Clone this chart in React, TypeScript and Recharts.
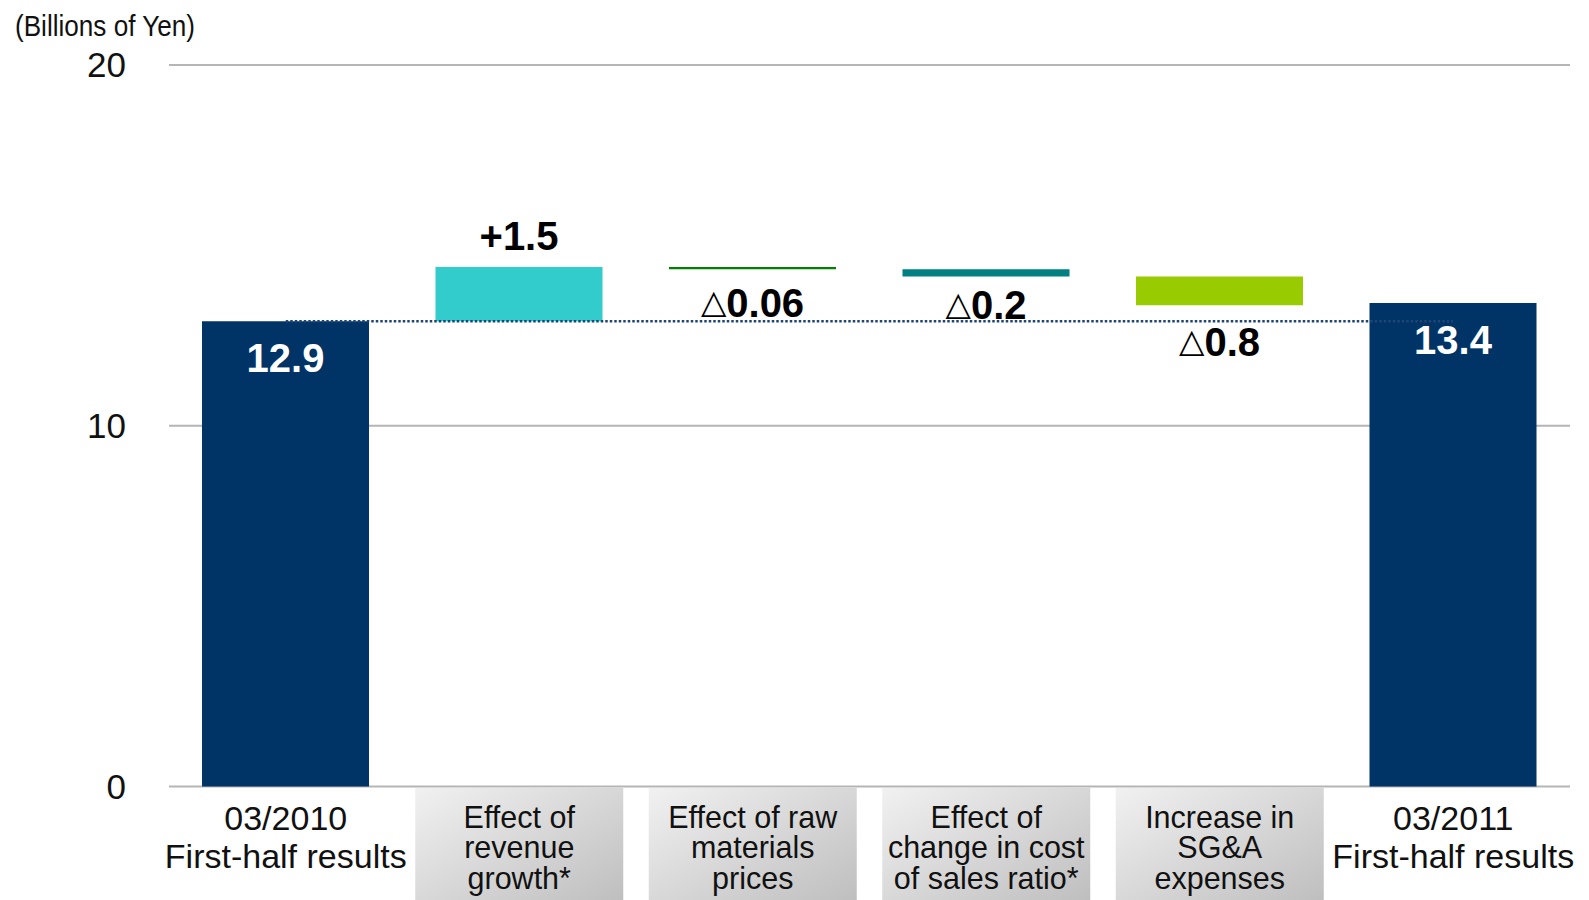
import React from "react";
import { BarChart, Bar, XAxis, YAxis, CartesianGrid, ReferenceLine, LabelList, Cell } from "recharts";

// categories (each entry is the lines of the axis label)
const categories = [
  ["03/2010", "First-half results"],
  ["Effect of", "revenue", "growth*"],
  ["Effect of raw", "materials", "prices"],
  ["Effect of", "change in cost", "of sales ratio*"],
  ["Increase in", "SG&A", "expenses"],
  ["03/2011", "First-half results"],
];
const startResult = 12.9;
const endResult = 13.4;
const effects = [1.5, -0.06, -0.2, -0.8];
const barLabels = ["12.9", "+1.5", "0.06", "0.2", "0.8", "13.4"];
const barColors = ["#003366", "#33CCCC", "#008000", "#008080", "#99CC00", "#003366"];
const yTicks = [0, 10, 20];

const FONT = "'Liberation Sans', Arial, 'DejaVu Sans', sans-serif";
// vertical gap of each label from its bar edge (hand-placed in the original slide)
const labelGap = [37, 31, 34, 29, 37, 37];

// waterfall rows: invisible base + visible segment
let running = startResult;
const rows = categories.map((lines, i) => {
  const name = lines.join("\n");
  if (i === 0) return { name, base: 0, value: startResult, label: barLabels[i], kind: "total" };
  if (i === categories.length - 1) return { name, base: 0, value: endResult, label: barLabels[i], kind: "total" };
  const d = effects[i - 1];
  const base = d > 0 ? running : running + d;
  running += d;
  return { name, base, value: Math.abs(d), label: barLabels[i], kind: d > 0 ? "up" : "down" };
});

const CategoryTick = (props: any) => {
  const { x, y, payload, index } = props;
  const lines: string[] = String(payload.value).split("\n");
  const boxed = index > 0 && index < categories.length - 1;
  const gid = `tickbg${index}`;
  const fontSize = boxed ? 30.5 : 34;
  const first = lines.length === 3 ? 30 : 31;
  const step = lines.length === 3 ? 30.5 : 38;
  return (
    <g>
      {boxed && (
        <>
          <defs>
            <linearGradient id={gid} x1="0" y1="0" x2="1" y2="1">
              <stop offset="0%" stopColor="#f1f1f1" />
              <stop offset="100%" stopColor="#bdbdbd" />
            </linearGradient>
          </defs>
          <rect x={x - 104} y={y + 1.5} width={208} height={120} fill={`url(#${gid})`} />
        </>
      )}
      {lines.map((t, k) => (
        <text
          key={k}
          x={x}
          y={y + first + k * step}
          textAnchor="middle"
          dominantBaseline="central"
          fontFamily={FONT}
          fontSize={fontSize}
          fill="#111"
        >
          {t}
        </text>
      ))}
    </g>
  );
};

const ValueLabel = (props: any) => {
  const { x, y, width, height, index, value } = props;
  const row = rows[index];
  const cx = x + width / 2;
  let cy = y + labelGap[index];
  let fill = "#ffffff";
  if (row.kind === "up") {
    cy = y - labelGap[index];
    fill = "#000";
  } else if (row.kind === "down") {
    cy = y + height + labelGap[index];
    fill = "#000";
  }
  return (
    <text
      x={cx}
      y={cy}
      textAnchor="middle"
      dominantBaseline="central"
      fontFamily={FONT}
      fontWeight="bold"
      fontSize={40}
      fill={fill}
    >
      {row.kind === "down" && (
        <tspan fontFamily="'DejaVu Sans', sans-serif" fontSize={33} dy={-2}>
          {"\u25B3"}
        </tspan>
      )}
      <tspan dy={row.kind === "down" ? 2 : 0}>{value}</tspan>
    </text>
  );
};

export default function App() {
  return (
    <div style={{ position: "absolute", left: 0, top: 0, width: 1589, height: 900, background: "#fff" }}>
      <svg width={240} height={50} style={{ position: "absolute", left: 0, top: 0 }}>
        <text
          x={15}
          y={25}
          dominantBaseline="central"
          fontFamily={FONT}
          fontSize={30}
          textLength={180}
          lengthAdjust="spacingAndGlyphs"
          fill="#111"
        >
          (Billions of Yen)
        </text>
      </svg>
      <BarChart
        width={1589}
        height={900}
        data={rows}
        margin={{ top: 65, right: 19, left: 0, bottom: 0 }}
      >
        <CartesianGrid vertical={false} stroke="#b5b5b5" strokeWidth={2} />
        <XAxis
          dataKey="name"
          interval={0}
          height={113.5}
          axisLine={false}
          tickLine={false}
          tickSize={0}
          tickMargin={0}
          tick={<CategoryTick />}
        />
        <YAxis
          domain={[0, 20]}
          ticks={yTicks}
          width={169}
          axisLine={false}
          tickLine={false}
          tickSize={0}
          tickMargin={43}
          tick={{ fontFamily: FONT, fontSize: 35, fill: "#111" }}
        />
        <Bar dataKey="base" stackId="w" fill="transparent" barSize={167} isAnimationActive={false} />
        <Bar dataKey="value" stackId="w" barSize={167} isAnimationActive={false}>
          {rows.map((r, i) => (
            <Cell key={i} fill={barColors[i]} />
          ))}
          <LabelList dataKey="label" content={<ValueLabel />} />
        </Bar>
        <ReferenceLine
          segment={[
            { x: rows[0].name, y: startResult },
            { x: rows[rows.length - 1].name, y: startResult },
          ]}
          stroke="#1f4577"
          strokeWidth={2.5}
          strokeDasharray="2.5 2"
        />
      </BarChart>
    </div>
  );
}
